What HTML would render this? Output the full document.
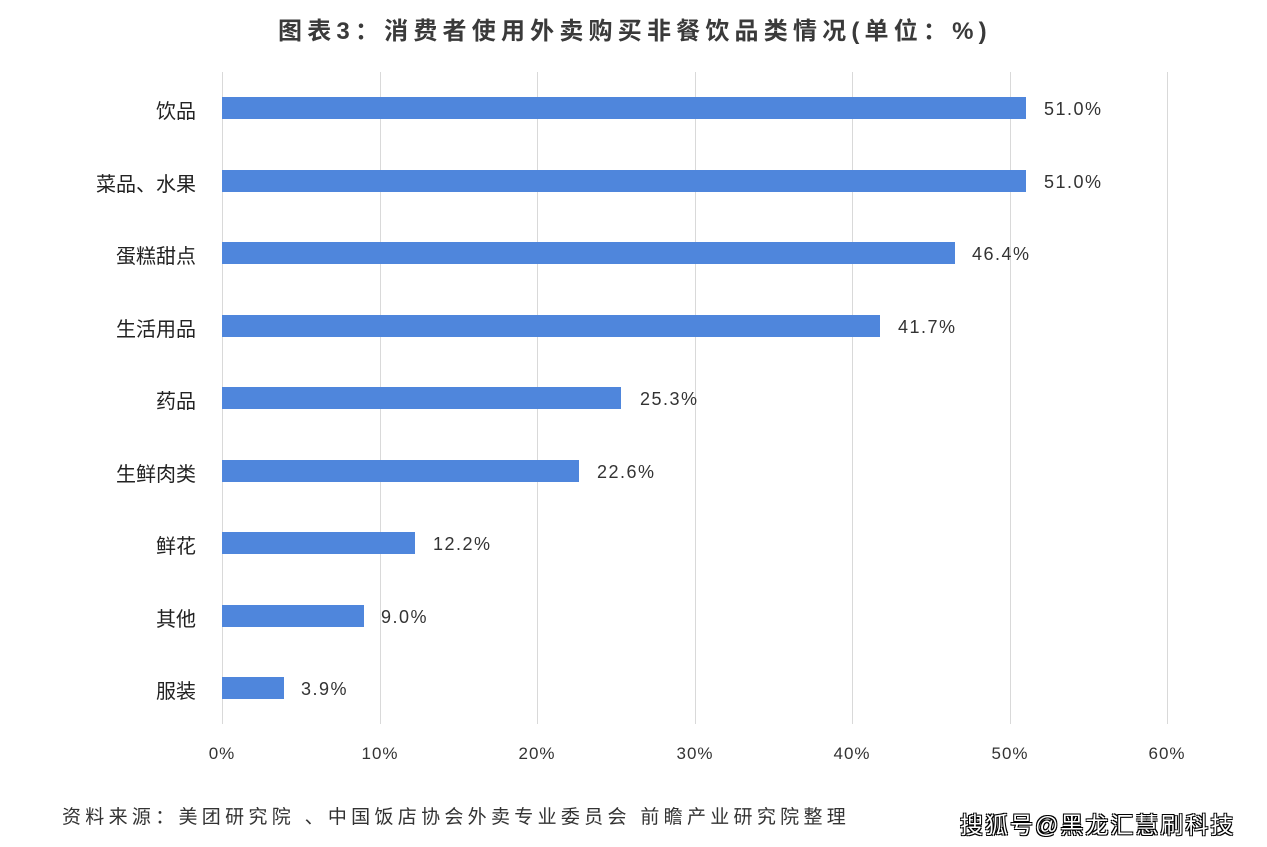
<!DOCTYPE html>
<html><head><meta charset="utf-8"><style>
body{margin:0;width:1267px;height:847px;background:#fff;position:relative;overflow:hidden;font-family:"Liberation Sans","Noto Sans CJK SC",sans-serif;color:#333}
.t{position:absolute;white-space:nowrap}
.g{position:absolute;top:72px;height:652px;width:1px;background:#d9d9d9}
.bar{position:absolute;left:222px;height:22px;background:#4f86dc}
.lab{position:absolute;right:1071px;font-size:20px;color:#222;white-space:nowrap}
.val{position:absolute;font-size:18px;color:#333;letter-spacing:1.5px}
.tick{position:absolute;top:744px;font-size:17px;width:60px;text-align:center;margin-left:-30px;letter-spacing:1px}
</style></head><body>
<div class="t" style="left:278px;top:11px;font-size:24px;font-weight:bold;color:#3a3a3a;letter-spacing:5.2px">图表3：消费者使用外卖购买非餐饮品类情况(单位：%)</div>
<div class="g" style="left:222px"></div><div class="g" style="left:380px"></div><div class="g" style="left:537px"></div><div class="g" style="left:695px"></div><div class="g" style="left:852px"></div><div class="g" style="left:1010px"></div><div class="g" style="left:1167px"></div>
<div class="bar" style="top:97px;width:804px"></div><div class="lab" style="top:95px">饮品</div><div class="val" style="top:99px;left:1044px">51.0%</div>
<div class="bar" style="top:170px;width:804px"></div><div class="lab" style="top:168px">菜品、水果</div><div class="val" style="top:172px;left:1044px">51.0%</div>
<div class="bar" style="top:242px;width:733px"></div><div class="lab" style="top:240px">蛋糕甜点</div><div class="val" style="top:244px;left:972px">46.4%</div>
<div class="bar" style="top:315px;width:658px"></div><div class="lab" style="top:313px">生活用品</div><div class="val" style="top:317px;left:898px">41.7%</div>
<div class="bar" style="top:387px;width:399px"></div><div class="lab" style="top:385px">药品</div><div class="val" style="top:389px;left:640px">25.3%</div>
<div class="bar" style="top:460px;width:357px"></div><div class="lab" style="top:458px">生鲜肉类</div><div class="val" style="top:462px;left:597px">22.6%</div>
<div class="bar" style="top:532px;width:193px"></div><div class="lab" style="top:530px">鲜花</div><div class="val" style="top:534px;left:433px">12.2%</div>
<div class="bar" style="top:605px;width:142px"></div><div class="lab" style="top:603px">其他</div><div class="val" style="top:607px;left:381px">9.0%</div>
<div class="bar" style="top:677px;width:62px"></div><div class="lab" style="top:675px">服装</div><div class="val" style="top:679px;left:301px">3.9%</div>
<div class="tick" style="left:222px">0%</div><div class="tick" style="left:380px">10%</div><div class="tick" style="left:537px">20%</div><div class="tick" style="left:695px">30%</div><div class="tick" style="left:852px">40%</div><div class="tick" style="left:1010px">50%</div><div class="tick" style="left:1167px">60%</div>
<div class="t" style="left:62px;top:802px;font-size:19px;color:#333;letter-spacing:4.3px">资料来源：美团研究院 、中国饭店协会外卖专业委员会 前瞻产业研究院整理</div>
<div class="t" style="left:960px;top:806px;font-size:23px;color:#fff;letter-spacing:2px;text-shadow:-1px -1px 0 #000,1px -1px 0 #000,-1px 1px 0 #000,1px 1px 0 #000">搜狐号@黑龙汇慧刷科技</div>
</body></html>
